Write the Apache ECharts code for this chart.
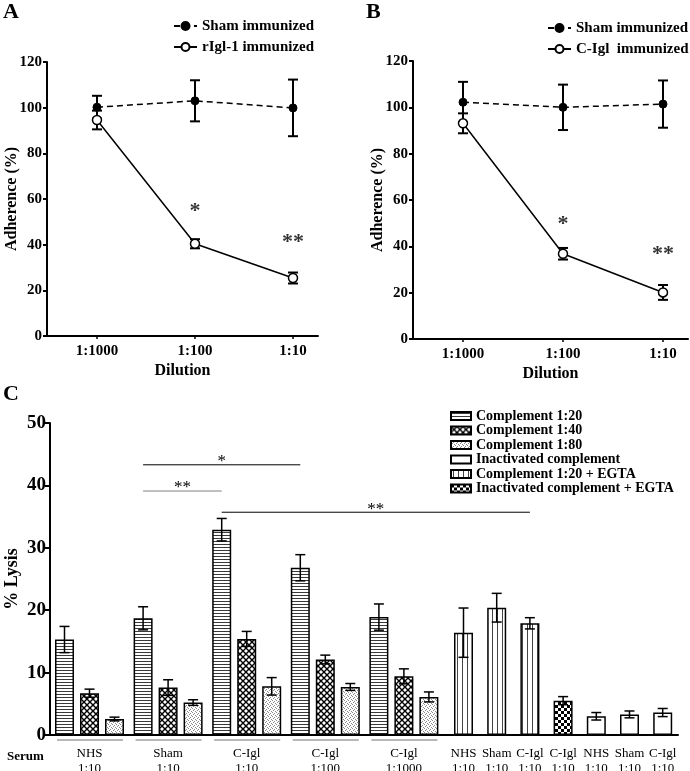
<!DOCTYPE html>
<html><head><meta charset="utf-8">
<script src="https://cdn.jsdelivr.net/npm/echarts@6/dist/echarts.min.js"></script>
<style>html,body{margin:0;padding:0;background:#fff}#c{width:690px;height:771px}</style>
</head><body><div id="c"></div>
<script>
// ---------- Panel A / B data ----------
const dilutions = ['1:1000', '1:100', '1:10'];
const shamA = [100.2, 103.0, 99.9];
const shamAErr = [5.0, 9.0, 12.4];
const riglA = [94.6, 40.4, 25.4];
const riglAErr = [4.1, 2.0, 2.4];
const shamB = [102.2, 100.0, 101.4];
const shamBErr = [8.8, 9.8, 10.2];
const ciglB = [93.1, 36.8, 20.1];
const ciglBErr = [4.3, 2.5, 3.2];
const starsA = [[1, 56.5, '*'], [2, 42.9, '**']];
const starsB = [[1, 51.4, '*'], [2, 38.4, '**']];
const adhTicks = [0, 20, 40, 60, 80, 100, 120];

// ---------- Panel C data ----------
const groupLabels = ['NHS\n1:10', 'Sham\n1:10', 'C-Igl\n1:10', 'C-Igl\n1:100', 'C-Igl\n1:1000'];
const comp20 = [15.3, 18.7, 32.9, 26.8, 18.9];
const comp20Err = [2.1, 1.85, 1.8, 2.1, 2.1];
const comp40 = [6.7, 7.6, 15.4, 12.1, 9.4];
const comp40Err = [0.65, 1.25, 1.2, 0.7, 1.2];
const comp80 = [2.56, 5.2, 7.8, 7.7, 6.1];
const comp80Err = [0.3, 0.45, 1.4, 0.55, 0.8];
const singleLabels = ['NHS\n1:10', 'Sham\n1:10', 'C-Igl\n1:10', 'C-Igl\n1:10', 'NHS\n1:10', 'Sham\n1:10', 'C-Igl\n1:10'];
const egta = [16.4, 20.4, 17.9];          // singles 0..2
const egtaErr = [3.95, 2.3, 0.9];
const inactEgta = [5.5];                  // single 3
const inactEgtaErr = [0.65];
const inact = [3.0, 3.3, 3.6];            // singles 4..6
const inactErr = [0.6, 0.55, 0.65];
const lysisTicks = [0, 10, 20, 30, 40, 50];
// significance brackets: bar slots (0..14 grouped bars g*3+b, 15..21 single bars)
const sigBrackets = [
  { from: 3, to: 9, y: 43.3, text: '*', color: '#000' },
  { from: 3, to: 6, y: 39.1, text: '**', color: '#808080' },
  { from: 6, to: 17, y: 35.7, text: '**', color: '#000' }
];

// ---------- layout helpers (axis units of panel C x axis) ----------
const G0 = 14.5, GP = 78.6, BP = 25, S0 = 413.5, SP = 33.2;
const gx = (g, b) => G0 + g * GP + b * BP;
const sx = i => S0 + i * SP;
const slotX = k => k < 15 ? gx(Math.floor(k / 3), k % 3) : sx(k - 15);

const serif = 'Liberation Serif, Times New Roman, serif';
const boldTxt = (s) => ({ fontFamily: serif, fontWeight: 'bold', fontSize: s, color: '#000' });

// ---------- patterns ----------
function pat(w, h, draw) {
  const c = document.createElement('canvas'); c.width = w; c.height = h;
  const ctx = c.getContext('2d'); ctx.fillStyle = '#fff'; ctx.fillRect(0, 0, w, h);
  draw(ctx); return { image: c, repeat: 'repeat' };
}
const pHoriz = pat(4, 3, ctx => { ctx.fillStyle = '#3a3a3a'; ctx.fillRect(0, 1, 4, 1); });
const pCross = pat(6, 6, ctx => { ctx.strokeStyle = '#000'; ctx.lineWidth = 1.4; ctx.beginPath();
  ctx.moveTo(-1, -1); ctx.lineTo(7, 7); ctx.moveTo(7, -1); ctx.lineTo(-1, 7); ctx.stroke(); });
const pDots = pat(4, 4, ctx => { ctx.fillStyle = '#8a8a8a';
  ctx.fillRect(0, 0, 1, 1); ctx.fillRect(2, 1, 1, 1); ctx.fillRect(1, 2, 1, 1); ctx.fillRect(3, 3, 1, 1); });
const pVert = pat(5, 1, ctx => { ctx.fillStyle = '#444'; ctx.fillRect(2, 0, 1, 1); });
const pCheck = pat(6, 6, ctx => { ctx.fillStyle = '#000'; ctx.fillRect(0, 0, 3, 3); ctx.fillRect(3, 3, 3, 3); });

// ---------- renderers ----------
function errRender(cap, lw) {
  return function (params, api) {
    const x = api.value(0), lo = api.value(1), hi = api.value(2);
    const a = api.coord([x, hi]), b = api.coord([x, lo]);
    const st = { stroke: '#000', lineWidth: lw };
    return { type: 'group', children: [
      { type: 'line', shape: { x1: a[0], y1: a[1], x2: b[0], y2: b[1] }, style: st },
      { type: 'line', shape: { x1: a[0] - cap, y1: a[1], x2: a[0] + cap, y2: a[1] }, style: st },
      { type: 'line', shape: { x1: b[0] - cap, y1: b[1], x2: b[0] + cap, y2: b[1] }, style: st }
    ] };
  };
}
const errData = (xs, v, e) => v.map((d, i) => [xs[i], d - e[i], d + e[i]]);

// ---------- A/B axes ----------
function adhY(grid) {
  return { gridIndex: grid, type: 'value', min: 0, max: 120, interval: 20,
    axisLine: { show: true, onZero: false, lineStyle: { color: '#000', width: 2 } },
    axisTick: { show: true, length: 4, lineStyle: { color: '#000', width: 2 } },
    axisLabel: { ...boldTxt(15), margin: 5 }, splitLine: { show: false },
    name: 'Adherence (%)', nameLocation: 'middle', nameGap: 27, nameMoveOverlap: false, nameTextStyle: boldTxt(16) };
}
function dilX(grid, min, max) {
  return { gridIndex: grid, type: 'value', min: min, max: max,
    axisLine: { show: true, onZero: false, lineStyle: { color: '#000', width: 2 } },
    axisTick: { show: true, customValues: [0, 1, 2], length: 3, lineStyle: { color: '#000', width: 1.5 } },
    axisLabel: { customValues: [0, 1, 2], formatter: v => dilutions[Math.round(v)], ...boldTxt(15), margin: 8 },
    splitLine: { show: false },
    name: 'Dilution', nameLocation: 'middle', nameGap: 27, nameMoveOverlap: false, nameTextStyle: boldTxt(16) };
}
function lineSeries(name, vals, xi, dashed) {
  return { type: 'line', name: name, xAxisIndex: xi, yAxisIndex: xi, z: 5,
    data: vals.map((v, i) => [i, v]),
    lineStyle: { color: '#000', width: 1.5, type: dashed ? [6, 4] : 'solid' },
    symbol: 'circle', symbolSize: dashed ? 8 : 9,
    itemStyle: dashed ? { color: '#000', borderColor: '#000', borderWidth: 1 } : { color: '#fff', borderColor: '#000', borderWidth: 1.5 } };
}
function errSeries(name, vals, errs, xi) {
  return { type: 'custom', name: name + ' err', xAxisIndex: xi, yAxisIndex: xi, z: 3,
    renderItem: errRender(5, 2), data: errData([0, 1, 2], vals, errs), silent: true };
}
function starSeries(data, xi) {
  return { type: 'scatter', xAxisIndex: xi, yAxisIndex: xi, symbolSize: 0, data: data, silent: true,
    label: { show: true, position: 'inside', formatter: p => p.value[2], ...boldTxt(22), offset: [0, 4] } };
}

// ---------- Panel C ----------
const cLabelVals = groupLabels.map((_, g) => gx(g, 1)).concat(singleLabels.map((_, i) => sx(i)));
const cLabelTxt = groupLabels.concat(singleLabels);
function barSeries(name, color, data) {
  return { type: 'bar', name: name, xAxisIndex: 2, yAxisIndex: 2, barWidth: 19, barGap: '-100%', z: 2,
    itemStyle: { color: color, borderColor: '#000', borderWidth: 1.5 }, data: data };
}
const gxs = b => groupLabels.map((_, g) => gx(g, b));
const s20 = barSeries('Complement 1:20', pHoriz, comp20.map((v, g) => [gx(g, 0), v]));
const s40 = barSeries('Complement 1:40', pCross, comp40.map((v, g) => [gx(g, 1), v]));
const s80 = barSeries('Complement 1:80', pDots, comp80.map((v, g) => [gx(g, 2), v]));
const sIn = barSeries('Inactivated complement', '#fff', inact.map((v, i) => [sx(4 + i), v]));
const sEg = barSeries('Complement 1:20 + EGTA', pVert, egta.map((v, i) => [sx(i), v]));
const sIe = barSeries('Inactivated complement + EGTA', pCheck, inactEgta.map((v, i) => [sx(3 + i), v]));

const cErr = [].concat(
  errData(gxs(0), comp20, comp20Err), errData(gxs(1), comp40, comp40Err), errData(gxs(2), comp80, comp80Err),
  errData([sx(0), sx(1), sx(2)], egta, egtaErr), errData([sx(3)], inactEgta, inactEgtaErr),
  errData([sx(4), sx(5), sx(6)], inact, inactErr));

const underline = {
  type: 'custom', xAxisIndex: 2, yAxisIndex: 2, silent: true, clip: false,
  data: groupLabels.map((_, g) => [gx(g, 0), gx(g, 2)]),
  renderItem: (params, api) => {
    const a = api.coord([api.value(0), 0]), b = api.coord([api.value(1), 0]);
    return { type: 'line', shape: { x1: a[0] - 7.5, y1: a[1] + 5, x2: b[0] + 8.5, y2: b[1] + 5 },
      style: { stroke: '#707070', lineWidth: 1 } };
  }
};
const brackets = {
  type: 'custom', xAxisIndex: 2, yAxisIndex: 2, silent: true, clip: false, z: 6,
  data: sigBrackets.map(b => [slotX(b.from), slotX(b.to), b.y]),
  renderItem: (params, api) => {
    const br = sigBrackets[params.dataIndex];
    const a = api.coord([api.value(0), api.value(2)]), b = api.coord([api.value(1), api.value(2)]);
    return { type: 'group', children: [
      { type: 'line', shape: { x1: a[0], y1: a[1], x2: b[0], y2: b[1] }, style: { stroke: br.color, lineWidth: 1 } },
      { type: 'text', x: (a[0] + b[0]) / 2, y: a[1] - 3, style: { text: br.text, fontFamily: serif, fontSize: 17,
        fill: '#000', align: 'center', verticalAlign: 'middle' } }
    ] };
  }
};

const option = {
  animation: false,
  backgroundColor: '#fff',
  grid: [
    { left: 47, top: 62, width: 271, height: 274, outerBoundsMode: 'none', containLabel: false },
    { left: 413, top: 61, width: 275, height: 278, outerBoundsMode: 'none', containLabel: false },
    { left: 50, top: 423, width: 628, height: 312, outerBoundsMode: 'none', containLabel: false }
  ],
  xAxis: [
    dilX(0, -0.51, 2.255),
    dilX(1, -0.5, 2.25),
    { gridIndex: 2, type: 'value', min: 0, max: 628,
      axisLine: { show: true, onZero: false, lineStyle: { color: '#000', width: 2 } },
      axisTick: { show: false }, splitLine: { show: false },
      axisLabel: { customValues: cLabelVals, formatter: v => cLabelTxt[cLabelVals.findIndex(c => Math.abs(c - v) < 0.01)],
        fontFamily: serif, fontSize: 13, lineHeight: 15, color: '#000', margin: 11 } }
  ],
  yAxis: [
    adhY(0), adhY(1),
    { gridIndex: 2, type: 'value', min: 0, max: 50, interval: 10,
      axisLine: { show: true, onZero: false, lineStyle: { color: '#000', width: 2 } },
      axisTick: { show: true, length: 5, lineStyle: { color: '#000', width: 2 } },
      axisLabel: { ...boldTxt(19), margin: 4 }, splitLine: { show: false },
      name: '% Lysis', nameLocation: 'middle', nameGap: 29, nameMoveOverlap: false, nameTextStyle: boldTxt(18) }
  ],
  legend: [
    { left: 173, top: 18, padding: 0, orient: 'vertical', itemWidth: 23, itemHeight: 10, itemGap: 5, textStyle: { ...boldTxt(15), lineHeight: 16 },
      data: ['Sham immunized', 'rIgl-1 immunized'], selectedMode: false },
    { left: 547, top: 20, padding: 0, orient: 'vertical', itemWidth: 23, itemHeight: 10, itemGap: 5, textStyle: { ...boldTxt(15), lineHeight: 16 },
      data: ['Sham immunized', 'C-Igl  immunized'], selectedMode: false },
    { left: 450, top: 409, padding: 0, orient: 'vertical', itemWidth: 20, itemHeight: 8, itemGap: 0.5, icon: 'rect',
      textStyle: { ...boldTxt(14), lineHeight: 14 }, selectedMode: false,
      data: ['Complement 1:20', 'Complement 1:40', 'Complement 1:80', 'Inactivated complement', 'Complement 1:20 + EGTA', 'Inactivated complement + EGTA'] }
  ],
  graphic: [
    { type: 'text', left: 3, top: 1, style: { text: 'A', font: 'bold 22px ' + serif, fill: '#000' } },
    { type: 'text', left: 366, top: 1, style: { text: 'B', font: 'bold 22px ' + serif, fill: '#000' } },
    { type: 'text', left: 3, top: 383, style: { text: 'C', font: 'bold 22px ' + serif, fill: '#000' } },
    { type: 'text', left: 7, top: 750, style: { text: 'Serum', font: 'bold 13px ' + serif, fill: '#000' } }
  ],
  series: [
    errSeries('Sham A', shamA, shamAErr, 0), errSeries('rIgl A', riglA, riglAErr, 0),
    lineSeries('Sham immunized', shamA, 0, true), lineSeries('rIgl-1 immunized', riglA, 0, false),
    starSeries(starsA, 0),
    errSeries('Sham B', shamB, shamBErr, 1), errSeries('C-Igl B', ciglB, ciglBErr, 1),
    lineSeries('Sham immunized', shamB, 1, true), lineSeries('C-Igl  immunized', ciglB, 1, false),
    starSeries(starsB, 1),
    s20, s40, s80, sIn, sEg, sIe,
    { type: 'custom', xAxisIndex: 2, yAxisIndex: 2, z: 4, silent: true, renderItem: errRender(5, 1.5), data: cErr },
    underline, brackets
  ]
};
const chart = echarts.init(document.getElementById('c'), null, { renderer: 'canvas' });
chart.setOption(option);
</script></body></html>
